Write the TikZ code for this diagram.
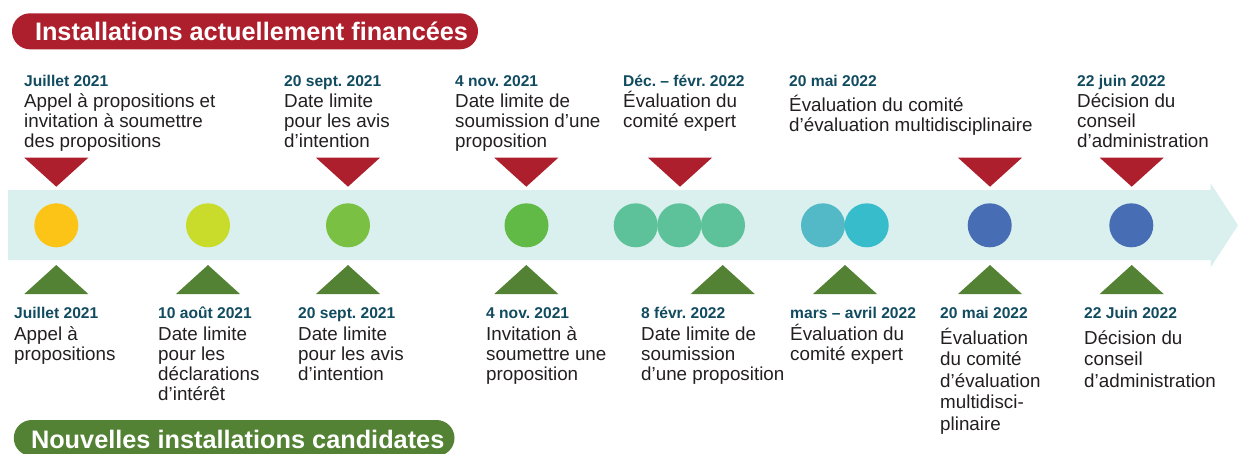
\documentclass[tikz,border=0pt]{standalone}
\usepackage{fontspec}
\setmainfont{Liberation Sans}
\usepackage{xcolor}
\usepackage{tikz}
\definecolor{fundred}{HTML}{AD1F2C}
\definecolor{newgreen}{HTML}{548235}
\definecolor{bandcol}{HTML}{DAF0EE}
\definecolor{datecol}{HTML}{114B5F}
\definecolor{bodycol}{HTML}{231F20}
\definecolor{dotA}{HTML}{FDC418}
\definecolor{dotB}{HTML}{C9DC2C}
\definecolor{dotC}{HTML}{7AC143}
\definecolor{dotD}{HTML}{62BA46}
\definecolor{dotE}{HTML}{5DC29A}
\definecolor{dotF}{HTML}{53B9C6}
\definecolor{dotG}{HTML}{37BCCB}
\definecolor{dotH}{HTML}{476EB4}
\newcommand{\firstln}{\rule{0pt}{18pt}}
\setlength{\lineskiplimit}{-100pt}
\frenchspacing

\begin{document}
\begin{tikzpicture}[x=1pt,y=-1pt,
    dot/.style={circle,minimum size=44pt,inner sep=0pt},
    banner/.style={anchor=base west,inner sep=0pt,text=white,font=\fontsize{25.3}{30}\selectfont\bfseries},
    datelbl/.style={anchor=base west,inner sep=0pt,text=datecol,font=\fontsize{15.6}{18}\selectfont\bfseries},
    body/.style={anchor=north west,inner sep=0pt,align=left,text=bodycol,font=\fontsize{18.8}{20}\selectfont},
    bodywide/.style={body,font=\fontsize{18.8}{21.5}\selectfont}]
    \useasboundingbox (0,0) rectangle (1238,453);
    %banners
    \fill[fundred,rounded corners=18pt] (12,13.3) rectangle (478,49.3);
    \node[banner] (funded) at (34.8,40) {Installations actuellement financées};
    \fill[newgreen,rounded corners=18pt] (13.8,420) rectangle (454.5,456);
    \node[banner] (candidates) at (30.8,448.3) {Nouvelles installations candidates};
    %timeline band
    \fill[bandcol] (8,190) -- (1210.7,190) -- (1210.7,183.3) -- (1238,225.3)
        -- (1210.7,267.3) -- (1210.7,260) -- (8,260) -- cycle;
    \foreach \x/\c [count=\i] in {56.3/dotA, 208/dotB, 348/dotC, 526.5/dotD,
        635.7/dotE, 679.3/dotE, 723/dotE, 823/dotF, 866.7/dotG, 989.7/dotH, 1131.3/dotH}
        \node[dot,fill=\c] (c\i) at (\x,225.3) {};
    %markers
    \foreach \x in {56.3,348,526.3,680,990,1131.7}
        \fill[fundred] (\x-32,157.7) -- (\x+32,157.7) -- (\x,186.7) -- cycle;
    \foreach \x in {56.3,208,348,526.3,722.7,845,990,1131.7}
        \fill[newgreen] (\x-32,294) -- (\x+32,294) -- (\x,265) -- cycle;
    %top labels
    \node[datelbl] (ta) at (24,86.7) {Juillet 2021};
    \node[body] (tab) at (24,89.7) {\firstln Appel à propositions et\\invitation à soumettre\\des propositions};
    \node[datelbl] (tb) at (284,86.7) {20 sept. 2021};
    \node[body] (tbb) at (284,89.7) {\firstln Date limite\\pour les avis\\d’intention};
    \node[datelbl] (tc) at (455,86.7) {4 nov. 2021};
    \node[body] (tcb) at (455,89.7) {\firstln Date limite de\\soumission d’une\\proposition};
    \node[datelbl] (td) at (623,86.7) {Déc. – févr. 2022};
    \node[body] (tdb) at (623,89.7) {\firstln Évaluation du\\comité expert};
    \node[datelbl] (te) at (789,86.7) {20 mai 2022};
    \node[body] (teb) at (789,93.7) {\firstln Évaluation du comité\\d’évaluation multidisciplinaire};
    \node[datelbl] (tf) at (1077,86.7) {22 juin 2022};
    \node[body] (tfb) at (1077,89.7) {\firstln Décision du\\conseil\\d’administration};
    %bottom labels
    \node[datelbl] (ba) at (14,318.3) {Juillet 2021};
    \node[body] (bab) at (14,322.7) {\firstln Appel à\\propositions};
    \node[datelbl] (bb) at (158,318.3) {10 août 2021};
    \node[body] (bbb) at (158,322.7) {\firstln Date limite\\pour les\\déclarations\\d’intérêt};
    \node[datelbl] (bc) at (298,318.3) {20 sept. 2021};
    \node[body] (bcb) at (298,322.7) {\firstln Date limite\\pour les avis\\d’intention};
    \node[datelbl] (bd) at (486,318.3) {4 nov. 2021};
    \node[body] (bdb) at (486,322.7) {\firstln Invitation à\\soumettre une\\proposition};
    \node[datelbl] (be) at (641,318.3) {8 févr. 2022};
    \node[body] (beb) at (641,322.7) {\firstln Date limite de\\soumission\\d’une proposition};
    \node[datelbl] (bf) at (790,318.3) {mars – avril 2022};
    \node[body] (bfb) at (790,322.7) {\firstln Évaluation du\\comité expert};
    \node[datelbl] (bg) at (940,318.3) {20 mai 2022};
    \node[bodywide] (bgb) at (940,326) {\firstln Évaluation\\du comité\\d’évaluation\\multidisci-\\plinaire};
    \node[datelbl] (bh) at (1084,318.3) {22 Juin 2022};
    \node[bodywide] (bhb) at (1084,326) {\firstln Décision du\\conseil\\d’administration};
\end{tikzpicture}
\end{document}
